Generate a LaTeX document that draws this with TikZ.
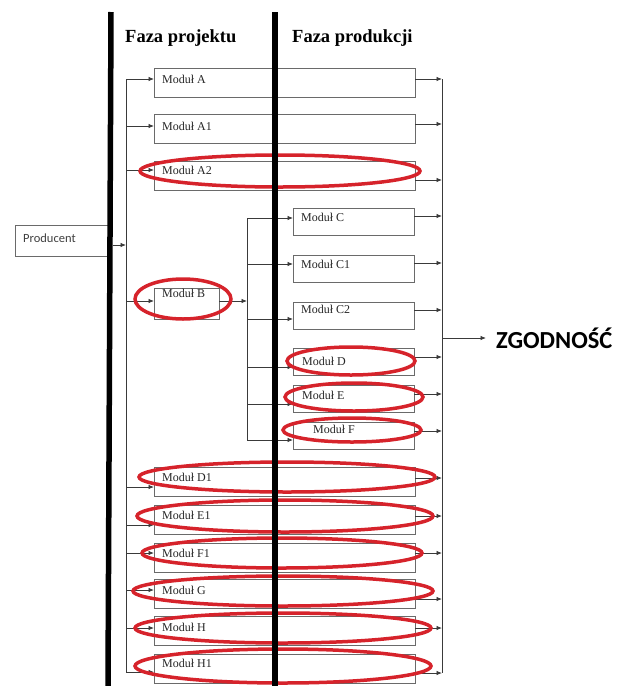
\documentclass[tikz,border=0pt]{standalone}
\usepackage{fontspec}
\setmainfont{Liberation Serif}
\newfontfamily\calibri{Carlito}
\usetikzlibrary{arrows.meta}
\definecolor{wirecol}{HTML}{3A3A3A}
\definecolor{boxcol}{HTML}{6A6A6A}
\definecolor{ring}{HTML}{D6232B}

\tikzset{
  wire/.style={draw=wirecol, line width=0.8pt},
  arr/.style={wire, -{Latex[length=5.5pt,width=4.5pt]}},
  modbox/.style={draw=boxcol, line width=0.8pt, fill=none, inner sep=0pt, outer sep=0pt, anchor=north west},
  modlabel/.style={anchor=west, inner sep=0pt, font=\fontsize{12}{12}\selectfont, text=black!85},
  phase/.style={anchor=base west, inner sep=0pt, font=\fontsize{18.5}{18.5}\selectfont\bfseries},
  bar/.style={draw=black, line width=5.5pt},
  oval/.style={draw=ring, line width=3.5pt}
}

\begin{document}
\begin{tikzpicture}[x=1pt,y=-1pt]
\useasboundingbox (0,0) rectangle (623,686);

% phase headers
\node[phase] (hdr1) at (125,42) {Faza projektu};
\node[phase] (hdr2) at (292,42) {Faza produkcji};

% producer
\node[modbox, minimum width=93pt, minimum height=31pt] (prod) at (15,225) {};
\node[anchor=west, inner sep=0pt, font=\calibri\fontsize{12.5}{12.5}\selectfont, text=black!75] (prod-t) at (23,238) {Producent};

% buses
\coordinate (busL-top) at (126,79);
\coordinate (busL-bot) at (126,672);
\coordinate (busR-top) at (442,79);
\coordinate (busR-bot) at (442,673);
\coordinate (busM-top) at (247,218);
\coordinate (busM-bot) at (247,440);
\draw[wire] (busL-top) -- (busL-bot);
\draw[wire] (busR-top) -- (busR-bot);
\draw[wire] (busM-top) -- (busM-bot);

% feed from the producer into the left bus
\coordinate (feed-s) at (113,245);
\coordinate (feed-e) at (126,245);
\draw[arr] (feed-s) -- (feed-e);

% long modules spanning both phases
\foreach \n/\t/\ty/\iy/\oy/\lab in {
  A/68/79/79/79/{Moduł A},
  A1/114/126/126/124/{Moduł A1},
  A2/161/170/170/180/{Moduł A2},
  D1/467/477/487/478/{Moduł D1},
  E1/505/515/525/516/{Moduł E1},
  F1/543/553/553/553/{Moduł F1},
  G/579/590/590/599/{Moduł G},
  H/616/627/628/628/{Moduł H},
  H1/654/663/672/673/{Moduł H1}}{
  \node[modbox, minimum width=261pt, minimum height=29pt] (\n) at (154,\t) {};
  \node[modlabel] (\n-t) at (162,\ty) {\lab};
  \coordinate (in-\n) at (126,\iy);
  \coordinate (out-\n) at (442,\oy);
  \draw[arr] (in-\n) -- (\n.west |- in-\n);
  \draw[arr] (\n.east |- out-\n) -- (out-\n);
}

% module B and its branch
\node[modbox, minimum width=65pt, minimum height=31pt] (B) at (154,288) {};
\node[modlabel] (B-t) at (162,293) {Moduł B};
\coordinate (in-B) at (126,301);
\coordinate (out-B) at (247,301);
\draw[arr] (in-B) -- (B.west |- in-B);
\draw[arr] (B.east |- out-B) -- (out-B);

% production-phase modules fed from module B
\foreach \n/\t/\tx/\ty/\iy/\oy/\lab in {
  C/208/301/217/218/216/{Moduł C},
  C1/255/301/264/264/263/{Moduł C1},
  C2/302/301/309/319/310/{Moduł C2},
  D/348/302/361/367/357/{Moduł D},
  E/385/302/395/404/394/{Moduł E},
  F/422/313/429/440/431/{Moduł F}}{
  \node[modbox, minimum width=121pt, minimum height=27.5pt] (\n) at (293,\t) {};
  \node[modlabel] (\n-t) at (\tx,\ty) {\lab};
  \coordinate (in-\n) at (247,\iy);
  \coordinate (out-\n) at (442,\oy);
  \draw[arr] (in-\n) -- (\n.west |- in-\n);
  \draw[arr] (\n.east |- out-\n) -- (out-\n);
}

% result
\coordinate (res-s) at (442,338);
\node[anchor=west, inner sep=0pt, font=\calibri\bfseries\fontsize{24.5}{24.5}\selectfont] (res) at (496,338) {ZGODNOŚĆ};
\draw[arr] (res-s) -- ([xshift=-10pt]res.west);

% highlighted modules
\draw[oval] (280,171) ellipse [x radius=140pt, y radius=16pt];
\draw[oval] (183,299) ellipse [x radius=48pt, y radius=20pt];
\draw[oval] (351,361) ellipse [x radius=64pt, y radius=14pt];
\draw[oval] (354,397) ellipse [x radius=69pt, y radius=14pt];
\draw[oval] (352,430) ellipse [x radius=69pt, y radius=12pt];
\draw[oval] (287,477) ellipse [x radius=148pt, y radius=15pt];
\draw[oval] (285,516) ellipse [x radius=148pt, y radius=16pt];
\draw[oval] (282,553) ellipse [x radius=140pt, y radius=15pt];
\draw[oval] (283,591) ellipse [x radius=150pt, y radius=15pt];
\draw[oval] (283,628) ellipse [x radius=148pt, y radius=15pt];
\draw[oval] (283,666) ellipse [x radius=148pt, y radius=17pt];

% phase boundaries
\coordinate (barL-top) at (111,12);
\coordinate (barL-bot) at (108,686);
\coordinate (barR-top) at (275,12);
\coordinate (barR-bot) at (275,686);
\draw[bar] (barL-top) -- (barL-bot);
\draw[bar] (barR-top) -- (barR-bot);
\end{tikzpicture}
\end{document}
